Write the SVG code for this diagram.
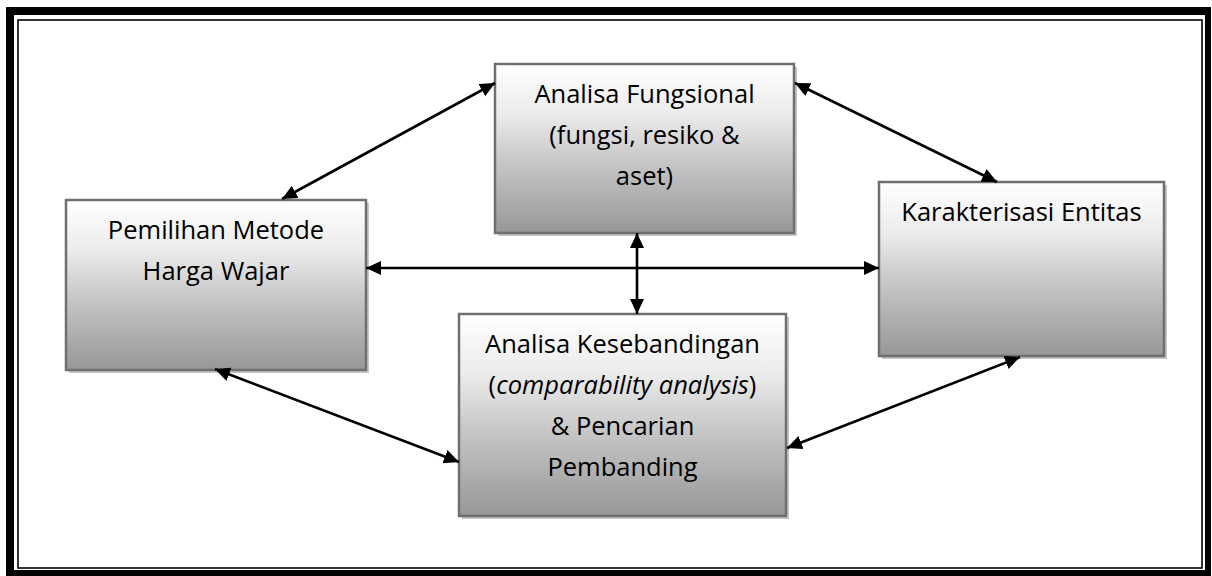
<svg xmlns="http://www.w3.org/2000/svg" width="1212" height="576" viewBox="0 0 1212 576">
<defs>
<linearGradient id="g" x1="0" y1="0" x2="0" y2="1">
<stop offset="0" stop-color="#ffffff"/>
<stop offset="0.3" stop-color="#ebebeb"/>
<stop offset="0.6" stop-color="#c4c4c4"/>
<stop offset="1" stop-color="#979797"/>
</linearGradient>
<marker id="ah" markerUnits="userSpaceOnUse" markerWidth="18" markerHeight="16" refX="15" refY="7" orient="auto-start-reverse">
<path d="M0,0 L15,7 L0,14 z" fill="#000"/>
</marker>
<style>
.box{fill:url(#g);stroke:#6f6f6f;stroke-width:2.5}
.sh{fill:#c6c6c6}
.t{font-family:"Open Sans","Noto Sans","Liberation Sans",sans-serif;font-size:25.5px;fill:#000;text-anchor:middle}
.c{stroke:#000;stroke-width:2.6;fill:none;marker-start:url(#ah);marker-end:url(#ah)}
</style>
</defs>
<rect width="1212" height="576" fill="#fff"/>
<g id="frame">
<path d="M6,7 H1211 V576 H6 Z M14,15 V570 H1205 V15 Z" fill="#000" fill-rule="evenodd"/>
<rect x="18" y="20" width="1184" height="548" fill="none" stroke="#000" stroke-width="1.6"/>
</g>
<g id="node-pemilihan">
<rect class="sh" x="69" y="203" width="300" height="170"/>
<rect class="box" x="66" y="200" width="300" height="170"/>
<text class="t" x="216" y="239">Pemilihan Metode</text>
<text class="t" x="216" y="280">Harga Wajar</text>
</g>
<g id="node-fungsional">
<rect class="sh" x="498" y="67" width="299" height="169"/>
<rect class="box" x="495" y="64" width="299" height="169"/>
<text class="t" x="644.5" y="103">Analisa Fungsional</text>
<text class="t" x="644.5" y="144">(fungsi, resiko &amp;</text>
<text class="t" x="644.5" y="185">aset)</text>
</g>
<g id="node-karakterisasi">
<rect class="sh" x="882" y="185" width="285" height="174"/>
<rect class="box" x="879" y="182" width="285" height="174"/>
<text class="t" x="1021.5" y="221">Karakterisasi Entitas</text>
</g>
<g id="node-kesebandingan">
<rect class="sh" x="462" y="317" width="327" height="202"/>
<rect class="box" x="459" y="314" width="327" height="202"/>
<text class="t" x="622.5" y="353">Analisa Kesebandingan</text>
<text class="t" x="622.5" y="394">(<tspan font-style="italic">comparability analysis</tspan>)</text>
<text class="t" x="622.5" y="435">&amp; Pencarian</text>
<text class="t" x="622.5" y="476">Pembanding</text>
</g>
<g id="connectors">
<line class="c" x1="282" y1="199" x2="495" y2="83"/>
<line class="c" x1="795" y1="83" x2="997" y2="182"/>
<line class="c" x1="366" y1="268" x2="879" y2="268"/>
<line class="c" x1="637" y1="233" x2="637" y2="314"/>
<line class="c" x1="215" y1="369" x2="459" y2="462"/>
<line class="c" x1="787" y1="448" x2="1020" y2="357"/>
</g>
</svg>
